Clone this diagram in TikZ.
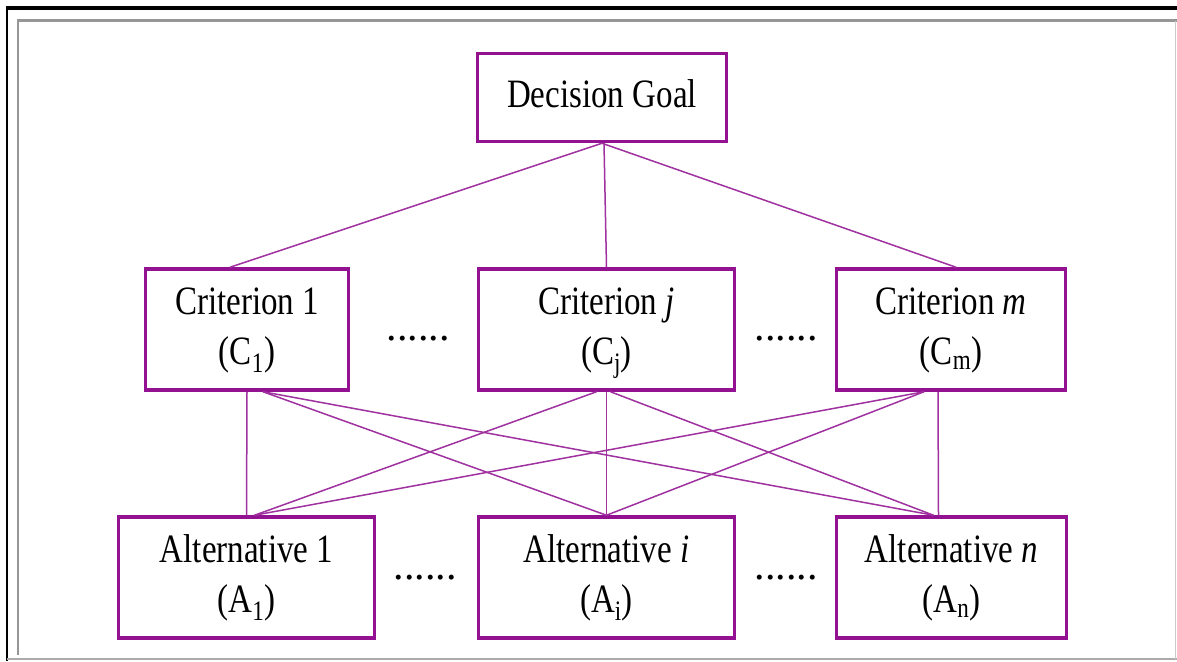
\documentclass[tikz,border=0pt]{standalone}
\usepackage{fontspec}
\setmainfont{Liberation Serif}
\usepackage{graphicx}

\definecolor{boxpurple}{RGB}{146,18,146}
\definecolor{linkpurple}{RGB}{160,50,160}
\definecolor{framegray}{RGB}{150,150,150}

% taller-than-wide lettering, one or more centred lines
\newcommand\tallstack[1]{\scalebox{1}[1.22]{\begin{tabular}{@{}c@{}}#1\end{tabular}}}

\tikzset{
  levelbox/.style={draw=boxpurple, line width=3.5pt, fill=white, inner sep=0pt,
    minimum height=121pt, font=\fontsize{33}{41}\selectfont},
  link/.style={draw=linkpurple, line width=1.5pt},
  ellipsis/.style={inner sep=0pt, anchor=base, font=\fontsize{42}{42}\selectfont}
}

\begin{document}
\begin{tikzpicture}[x=1pt,y=-1pt]
  \useasboundingbox (0,0) rectangle (1177,661);
  \fill[white] (0,0) rectangle (1177,661);

  % window frame
  \draw[line width=3.5pt, black] (6,8) -- (1177,8);
  \draw[line width=2.5pt, black] (7,8) -- (7,661);
  \draw[line width=3pt, framegray] (17,20.5) -- (1177,20.5);
  \draw[line width=2.5pt, framegray] (18,20) -- (18,655);
  \draw[line width=2pt, framegray!80] (7,659) -- (1177,659);
  \draw[line width=1pt, framegray!50] (1175,21) -- (1175,659);

  % goal
  \node[levelbox, minimum width=249pt, minimum height=88pt] (goal) at (602,97.5)
    {\tallstack{Decision Goal}};

  % criteria
  \node[levelbox, minimum width=203pt] (c1) at (247,329.5)
    {\tallstack{Criterion 1\\(C\textsubscript{1})}};
  \node[levelbox, minimum width=256pt] (cj) at (606.5,329.5)
    {\tallstack{Criterion \textit{j}\\(C\textsubscript{j})}};
  \node[levelbox, minimum width=229pt] (cm) at (951,329.5)
    {\tallstack{Criterion \textit{m}\\(C\textsubscript{m})}};

  % alternatives
  \node[levelbox, minimum width=256pt] (a1) at (246.5,577.5)
    {\tallstack{Alternative 1\\(A\textsubscript{1})}};
  \node[levelbox, minimum width=256pt] (ai) at (606.5,577.5)
    {\tallstack{Alternative \textit{i}\\(A\textsubscript{i})}};
  \node[levelbox, minimum width=230pt] (an) at (951.5,577.5)
    {\tallstack{Alternative \textit{n}\\(A\textsubscript{n})}};

  % ellipses between boxes
  \node[ellipsis] (dc1) at (418,340) {......};
  \node[ellipsis] (dc2) at (786,340) {......};
  \node[ellipsis] (da1) at (425,579) {......};
  \node[ellipsis] (da2) at (786,579) {......};

  % goal to criteria
  \draw[link] (goal.south) -- ([xshift=-17pt]c1.north);
  \draw[link] ([xshift=2pt]goal.south) -- (cj.north);
  \draw[link] (goal.south) -- ([xshift=5pt]cm.north);

  % criteria to alternatives
  \draw[link] (c1.south) -- (a1.north);
  \draw[link] ([xshift=16pt]c1.south) -- (ai.north);
  \draw[link] ([xshift=16pt]c1.south) -- ([xshift=-18pt]an.north);

  \draw[link] ([xshift=-10pt]cj.south) -- ([xshift=8pt]a1.north);
  \draw[link] (cj.south) -- (ai.north);
  \draw[link] ([xshift=4pt]cj.south) -- ([xshift=-18pt]an.north);

  \draw[link] ([xshift=-27pt]cm.south) -- ([xshift=8pt]a1.north);
  \draw[link] ([xshift=-27pt]cm.south) -- (ai.north);
  \draw[link] ([xshift=-13pt]cm.south) -- ([xshift=-13pt]an.north);
\end{tikzpicture}
\end{document}
